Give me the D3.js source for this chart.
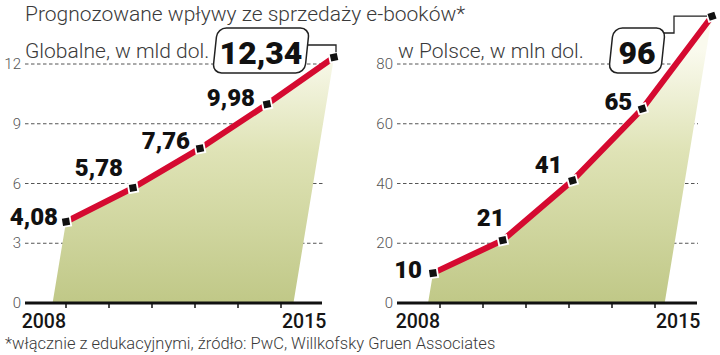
<!DOCTYPE html>
<html><head><meta charset="utf-8">
<script src="https://cdn.jsdelivr.net/npm/d3@7"></script>
<style>
html,body{margin:0;padding:0;background:#fff;}
svg{display:block;}
text{font-family:Roboto,"Liberation Sans",sans-serif;}
</style></head>
<body>
<script>
// ---- data ----
const title = "Prognozowane wpływy ze sprzedaży e-booków*";
const footnote = "*włącznie z edukacyjnymi, źródło: PwC, Willkofsky Gruen Associates";
const globalTitle = "Globalne, w mld dol.";
const polandTitle = "w Polsce, w mln dol.";
const globalValues = [4.08, 5.78, 7.76, 9.98, 12.34];
const globalLabels = ["4,08", "5,78", "7,76", "9,98", "12,34"];
const polandValues = [10, 21, 41, 65, 96];
const polandLabels = ["10", "21", "41", "65", "96"];
const globalYTicks = [0, 3, 6, 9, 12];
const polandYTicks = [0, 20, 40, 60, 80];
const xTickLabels = ["2008", "", "", "", "", "2015"];

// ---- layout ----
const W = 720, H = 355;
const svg = d3.select("body").append("svg").attr("width", W).attr("height", H);
const defs = svg.append("defs");
const grad = defs.append("linearGradient").attr("id", "g").attr("gradientUnits", "userSpaceOnUse")
  .attr("x1", 0).attr("x2", 0).attr("y1", 50).attr("y2", 303);
grad.append("stop").attr("offset", "0%").attr("stop-color", "#fafaee");
grad.append("stop").attr("offset", "40%").attr("stop-color", "#dfe3b6");
grad.append("stop").attr("offset", "100%").attr("stop-color", "#c0c887");

svg.append("text").attr("x", 25).attr("y", 21).attr("font-size", 21).attr("fill", "#3a3a3a")
  .attr("font-weight", 300).text(title);
svg.append("text").attr("x", 5).attr("y", 349).attr("font-size", 16.5).attr("fill", "#3a3a3a")
  .attr("font-weight", 300).text(footnote);

const panels = [
  { sub: globalTitle, subX: 25, values: globalValues, labels: globalLabels, yTicks: globalYTicks,
    yMax: 12, gridX: [25, 323], pointX: [66, 334], tickX: [66, 281], yLabelX: 21,
    labelOff: [[-8, 3, "end"], [-10, -12, "end"], [-10, 1, "end"], [-12, 2, "end"]],
    box: { w: 92, dx: -73 }, connector: "down" },
  { sub: polandTitle, subX: 398, values: polandValues, labels: polandLabels, yTicks: polandYTicks,
    yMax: 80, gridX: [397, 698], pointX: [433, 712], tickX: [440, 655], yLabelX: 393,
    labelOff: [[-11, 5, "end"], [-12, -14, "middle"], [-10, -8, "end"], [-10, 1, "end"]],
    box: { w: 52, dx: -75 }, connector: "up" }
];

const y0px = 303, yTopPx = 64, slant = 0.165;

panels.forEach(p => {
  const g = svg.append("g");
  const y = d3.scaleLinear().domain([0, p.yMax]).range([y0px, yTopPx]);
  const x = d3.scaleLinear().domain([0, p.values.length - 1]).range(p.pointX);
  const xt = d3.scaleLinear().domain([0, xTickLabels.length - 1]).range(p.tickX);

  // subtitle
  g.append("text").attr("x", p.subX).attr("y", 58).attr("font-size", 21).attr("fill", "#3a3a3a")
    .attr("font-weight", 300).text(p.sub);

  // gridlines
  g.selectAll("line.grid").data(p.yTicks.filter(d => d > 0)).join("line")
    .attr("x1", p.gridX[0]).attr("x2", p.gridX[1])
    .attr("y1", d => y(d)).attr("y2", d => y(d))
    .attr("stroke", "#555").attr("stroke-width", 1).attr("stroke-dasharray", "3.5,2.5");
  // y labels
  g.selectAll("text.yl").data(p.yTicks).join("text")
    .attr("x", p.yLabelX).attr("y", d => y(d) + 5).attr("text-anchor", "end")
    .attr("font-size", 15).attr("font-weight", 300).attr("fill", "#555").text(d => d);

  // area
  const pts = p.values.map((v, i) => [x(i), y(v)]);
  const first = pts[0], last = pts[pts.length - 1];
  const poly = [[first[0] - slant * (y0px - first[1]), y0px], ...pts, [last[0] - slant * (y0px - last[1]), y0px]];
  g.append("path").attr("d", d3.line()(poly) + "Z").attr("fill", "url(#g)");

  // baseline
  g.append("line").attr("x1", p.gridX[0]).attr("x2", p.gridX[1] - 1).attr("y1", y0px).attr("y2", y0px)
    .attr("stroke", "#111").attr("stroke-width", 3);
  // x axis ticks & labels
  g.selectAll("line.xt").data(xTickLabels).join("line")
    .attr("x1", (d, i) => xt(i)).attr("x2", (d, i) => xt(i)).attr("y1", y0px).attr("y2", y0px + 5)
    .attr("stroke", "#111").attr("stroke-width", 1.5);
  g.selectAll("text.xl").data(xTickLabels).join("text")
    .attr("x", (d, i) => xt(i) + (i === 0 ? 0 : 1))
    .attr("y", 328).attr("text-anchor", (d, i) => i === 0 ? "end" : "start")
    .attr("font-size", 19.5).attr("font-weight", 500).attr("fill", "#161616").text(d => d);

  // red line
  g.append("path").attr("d", d3.line()(pts)).attr("fill", "none")
    .attr("stroke", "#d50a30").attr("stroke-width", 6);

  // markers
  pts.forEach((pt, i) => {
    const a = pts[Math.min(i + 1, pts.length - 1)], b = pts[Math.max(i - 1, 0)];
    const ang = Math.atan2(a[1] - b[1], a[0] - b[0]) * 180 / Math.PI * 0.35;
    g.append("rect").attr("x", -4.5).attr("y", -4.5).attr("width", 9).attr("height", 9)
      .attr("transform", `translate(${pt[0]},${pt[1]}) rotate(${ang})`)
      .attr("fill", "#111").attr("stroke", "#fff").attr("stroke-width", 1.8);
  });

  // value labels
  p.labels.slice(0, -1).forEach((lab, i) => {
    const o = p.labelOff[i];
    g.append("text").attr("x", pts[i][0] + o[0]).attr("y", pts[i][1] + o[1])
      .attr("text-anchor", o[2]).attr("font-size", 24).attr("font-weight", 900)
      .attr("fill", "#111").text(lab);
  });

  // callout box
  const bx = last[0] + p.box.dx, bTop = 28, bBot = 73, bw = p.box.w;
  g.append("rect").attr("x", -bw / 2).attr("y", -(bBot - bTop) / 2).attr("width", bw).attr("height", bBot - bTop)
    .attr("rx", 9).attr("ry", 9)
    .attr("transform", `translate(${bx},${(bTop + bBot) / 2}) skewX(-6)`)
    .attr("fill", "#fff").attr("stroke", "#222").attr("stroke-width", 1.5);
  g.append("text").attr("x", bx).attr("y", 64).attr("text-anchor", "middle")
    .attr("font-size", 32).attr("font-weight", 900).attr("fill", "#111").text(p.labels[p.labels.length - 1]);

  // connector
  let cpts;
  if (p.connector === "down") {
    const cy = 45;
    cpts = [[bx + bw / 2 + 1, cy], [last[0] + 2, cy], [last[0] + 2, last[1] - 5]];
  } else {
    const cy = 33;
    cpts = [[bx + bw / 2 + 1, cy], [last[0] - 38, cy], [last[0] - 38, last[1]], [last[0] - 5, last[1]]];
  }
  g.append("path").attr("d", d3.line()(cpts)).attr("fill", "none").attr("stroke", "#222").attr("stroke-width", 1.3);
});
</script>
</body></html>
